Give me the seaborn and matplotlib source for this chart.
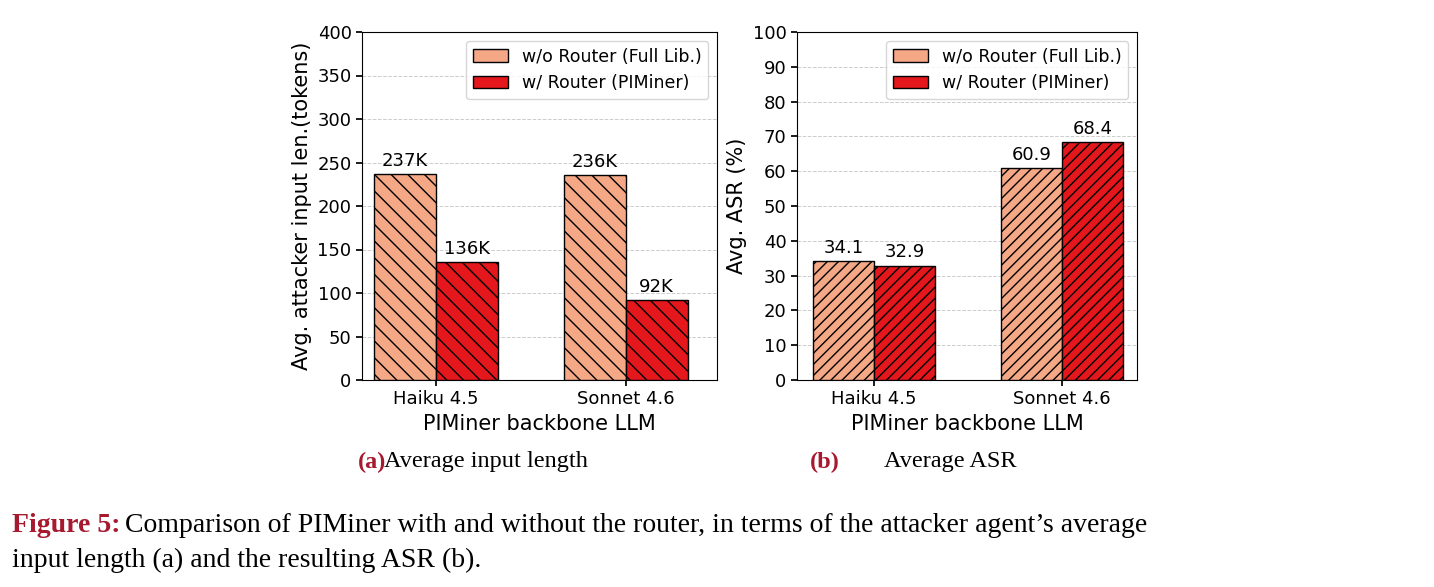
import matplotlib
matplotlib.use("Agg")
import matplotlib.pyplot as plt
import seaborn as sns
import pandas as pd
import numpy as np

models = ["Haiku 4.5", "Sonnet 4.6"]
series = ["w/o Router (Full Lib.)", "w/ Router (PIMiner)"]
input_len = [[237, 136], [236, 92]]  # per model: [w/o, w/]
input_lbl = [["237K", "136K"], ["236K", "92K"]]
asr = [[34.1, 32.9], [60.9, 68.4]]

sns.set_theme(style="white")
plt.rcParams['font.family'] = ['DejaVu Sans']
plt.rcParams['hatch.linewidth'] = 1.0
for k in ["text.color", "axes.labelcolor", "xtick.color", "ytick.color"]:
    plt.rcParams[k] = "black"

colors = ["#F5A886", "#E3171C"]

fig = plt.figure(figsize=(14.34, 5.87), dpi=100)
ax1 = fig.add_axes([362/1434, 1-380/587, 355/1434, 348/587])
ax2 = fig.add_axes([797/1434, 1-380/587, 340/1434, 348/587])

def draw(ax, vals, labels, hatch, ylim, yticks, ylabel, xlim):
    df = pd.DataFrame([(m, s, vals[i][j], labels[i][j]) for i, m in enumerate(models)
                       for j, s in enumerate(series)], columns=["model", "series", "v", "lbl"])
    sns.barplot(data=df, x="model", y="v", hue="series", palette=colors, ax=ax,
                width=0.65, edgecolor="black", linewidth=1, saturation=1, zorder=3)
    for j, cont in enumerate(ax.containers):
        for b in cont:
            b.set_hatch(hatch)
        ax.bar_label(cont, labels=[labels[i][j] for i in range(len(models))],
                     padding=3, fontsize=13)
    ax.set_ylim(*ylim)
    ax.set_xlim(*xlim)
    ax.set_yticks(yticks)
    ax.grid(axis="y", linestyle="--", color="#cccccc", linewidth=0.7, zorder=0)
    ax.set_axisbelow(True)
    ax.set_xlabel("PIMiner backbone LLM", fontsize=15)
    ax.set_ylabel(ylabel, fontsize=15)
    ax.tick_params(axis="both", labelsize=13, length=4, left=True, bottom=True)
    for s in ax.spines.values():
        s.set_color("black"); s.set_linewidth(0.8)
    ax.legend(fontsize=12.5, loc="upper right", frameon=True)

draw(ax1, input_len, input_lbl, "\\\\", (0, 400), range(0, 401, 50),
     "Avg. attacker input len.(tokens)", (-0.39, 1.48))
draw(ax2, asr, [[f"{v}" for v in r] for r in asr], "///", (0, 100), range(0, 101, 10),
     "Avg. ASR (%)", (-0.41, 1.40))

red = "#A6192E"
serif = ["Liberation Serif", "DejaVu Serif"]
fig.text(358/1434, 1-462/587, "(a)", color=red, fontweight="bold", fontsize=17.5, family=serif, va="center")
fig.text(384/1434, 1-462/587, "Average input length", fontsize=17.5, family=serif, va="center")
fig.text(810/1434, 1-462/587, "(b)", color=red, fontweight="bold", fontsize=17.5, family=serif, va="center")
fig.text(884/1434, 1-462/587, "Average ASR", fontsize=17.5, family=serif, va="center")
fig.text(12/1434, 1-525/587, "Figure 5:", color=red, fontweight="bold", fontsize=20, family=serif, va="center")
fig.text(125/1434, 1-525/587, "Comparison of PIMiner with and without the router, in terms of the attacker agent\u2019s average",
         fontsize=20, family=serif, va="center")
fig.text(12/1434, 1-560/587, "input length (a) and the resulting ASR (b).", fontsize=20, family=serif, va="center")

fig.savefig("out.png", dpi=100)
